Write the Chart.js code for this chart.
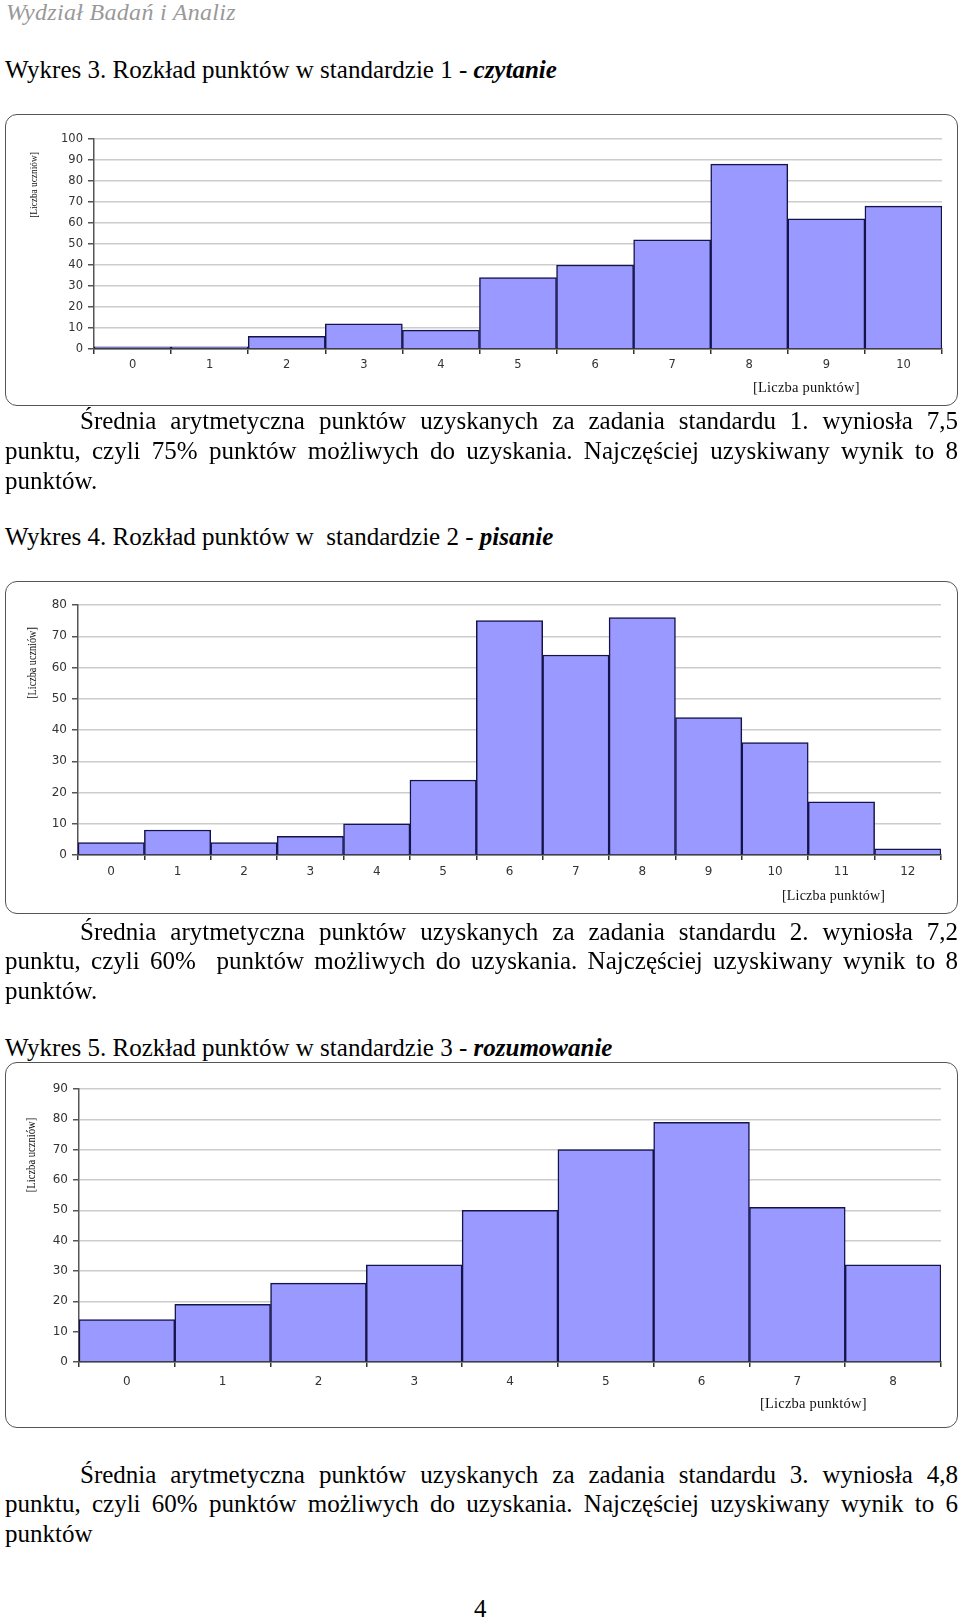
<!DOCTYPE html>
<html lang="pl">
<head>
<meta charset="utf-8">
<script src="https://cdn.jsdelivr.net/npm/chart.js@4.4.0/dist/chart.umd.min.js"></script>
<style>
  html, body { margin: 0; padding: 0; background: #fff; }
  body { width: 960px; height: 1620px; position: relative; overflow: hidden;
         font-family: "Liberation Serif", "Times New Roman", serif; color: #000; }
  .t { position: absolute; left: 5px; width: 953px; font-size: 25px; line-height: 30px; white-space: nowrap; }
  .j { text-align: justify; text-align-last: justify; white-space: normal; }
  .hdr { position: absolute; left: 6px; top: -3px; font-size: 24px; line-height: 30px; font-style: italic;
         color: #999; letter-spacing: 0.3px; }
  .box { position: absolute; left: 5px; width: 953px; }
  .box canvas { position: absolute; left: 0; top: 0; }
  .frame { position: absolute; left: 0; top: 0; right: 0; bottom: 0; border: 1.5px solid #555;
           border-radius: 12px; box-sizing: border-box; pointer-events: none; }
  .ytitle { position: absolute; white-space: nowrap; color: #111;
            transform: translate(-50%, -50%) rotate(-90deg) scaleX(0.85); }
  .xtitle { position: absolute; white-space: nowrap; color: #111; transform: translateY(-50%); letter-spacing: 0.2px; }
</style>
</head>
<body>

<div class="hdr">Wydział Badań i Analiz</div>

<div class="t" style="top:55px">Wykres 3. Rozkład punktów w standardzie 1 - <b><i>czytanie</i></b></div>

<div class="box" style="top:114px;height:292px">
  <canvas id="c1" width="953" height="292"></canvas>
  <div class="frame"></div>
  <div class="ytitle" style="left:28px;top:71px;font-size:11px">[Liczba uczniów]</div>
  <div class="xtitle" style="left:748px;top:273px;font-size:14.5px">[Liczba punktów]</div>
</div>

<div class="t j" style="top:406px;left:80px;width:878px">Średnia arytmetyczna punktów uzyskanych za zadania standardu 1. wyniosła 7,5</div>
<div class="t j" style="top:436px">punktu, czyli 75% punktów możliwych do uzyskania. Najczęściej uzyskiwany wynik to 8</div>
<div class="t" style="top:466px">punktów.</div>

<div class="t" style="top:522px">Wykres 4. Rozkład punktów w&nbsp; standardzie 2 - <b><i>pisanie</i></b></div>

<div class="box" style="top:581px;height:333px">
  <canvas id="c2" width="953" height="333"></canvas>
  <div class="frame"></div>
  <div class="ytitle" style="left:27px;top:82px;font-size:12px">[Liczba uczniów]</div>
  <div class="xtitle" style="left:777px;top:315px;font-size:14px">[Liczba punktów]</div>
</div>

<div class="t j" style="top:917px;left:80px;width:878px">Średnia arytmetyczna punktów uzyskanych za zadania standardu 2. wyniosła 7,2</div>
<div class="t j" style="top:946px">punktu, czyli 60%&nbsp; punktów możliwych do uzyskania. Najczęściej uzyskiwany wynik to 8</div>
<div class="t" style="top:976px">punktów.</div>

<div class="t" style="top:1033px">Wykres 5. Rozkład punktów w standardzie 3 - <b><i>rozumowanie</i></b></div>

<div class="box" style="top:1062px;height:366px">
  <canvas id="c3" width="953" height="366"></canvas>
  <div class="frame"></div>
  <div class="ytitle" style="left:26px;top:93px;font-size:12.5px">[Liczba uczniów]</div>
  <div class="xtitle" style="left:755px;top:341px;font-size:14.5px">[Liczba punktów]</div>
</div>

<div class="t j" style="top:1460px;left:80px;width:878px">Średnia arytmetyczna punktów uzyskanych za zadania standardu 3. wyniosła 4,8</div>
<div class="t j" style="top:1489px">punktu, czyli 60% punktów możliwych do uzyskania. Najczęściej uzyskiwany wynik to 6</div>
<div class="t" style="top:1519px">punktów</div>

<div class="t" style="top:1594px;left:474px;width:auto">4</div>

<script>
// Wykres 3 - czytanie
const labels1 = ['0', '1', '2', '3', '4', '5', '6', '7', '8', '9', '10'];
const values1 = [1, 1, 6, 12, 9, 34, 40, 52, 88, 62, 68];
const yMax1 = 100;

// Wykres 4 - pisanie
const labels2 = ['0', '1', '2', '3', '4', '5', '6', '7', '8', '9', '10', '11', '12'];
const values2 = [4, 8, 4, 6, 10, 24, 75, 64, 76, 44, 36, 17, 2];
const yMax2 = 80;

// Wykres 5 - rozumowanie
const labels3 = ['0', '1', '2', '3', '4', '5', '6', '7', '8'];
const values3 = [14, 19, 26, 32, 50, 70, 79, 51, 32];
const yMax3 = 90;

const yStep = 10;

function drawChart(id, labels, values, yMax, o) {
  const tickFont = { family: 'DejaVu Sans', size: o.fontSize };
  return new Chart(document.getElementById(id), {
    type: 'bar',
    data: {
      labels: labels,
      datasets: [{
        data: values,
        backgroundColor: '#9999ff',
        borderColor: '#14144a',
        borderWidth: 1.5,
        barPercentage: 1,
        categoryPercentage: 1
      }]
    },
    options: {
      responsive: false,
      animation: false,
      layout: { padding: { top: o.top, right: o.right, left: 0, bottom: 0 } },
      plugins: { legend: { display: false }, tooltip: { enabled: false } },
      scales: {
        x: {
          offset: true,
          ticks: { color: '#333', font: tickFont, padding: o.xPad },
          grid: { offset: true, drawOnChartArea: false, tickColor: '#333', tickLength: 5, lineWidth: 1.5 },
          border: { display: true, color: '#333', width: 1.5 },
          afterFit(s) { s.height = o.xHeight; }
        },
        y: {
          min: 0,
          max: yMax,
          ticks: { stepSize: yStep, color: '#333', font: tickFont, padding: 5 },
          grid: { color: '#cccccc', lineWidth: 1.5, tickColor: '#555', tickLength: 6 },
          border: { display: true, color: '#555', width: 1.5 },
          afterFit(s) { s.width = o.yWidth; }
        }
      }
    }
  });
}

drawChart('c1', labels1, values1, yMax1, { fontSize: 11.5, top: 25, right: 16, yWidth: 89, xHeight: 57, xPad: 4 });
drawChart('c2', labels2, values2, yMax2, { fontSize: 12, top: 24, right: 17, yWidth: 73, xHeight: 59, xPad: 5 });
drawChart('c3', labels3, values3, yMax3, { fontSize: 12, top: 27, right: 17, yWidth: 74, xHeight: 66, xPad: 8 });
</script>
</body>
</html>
